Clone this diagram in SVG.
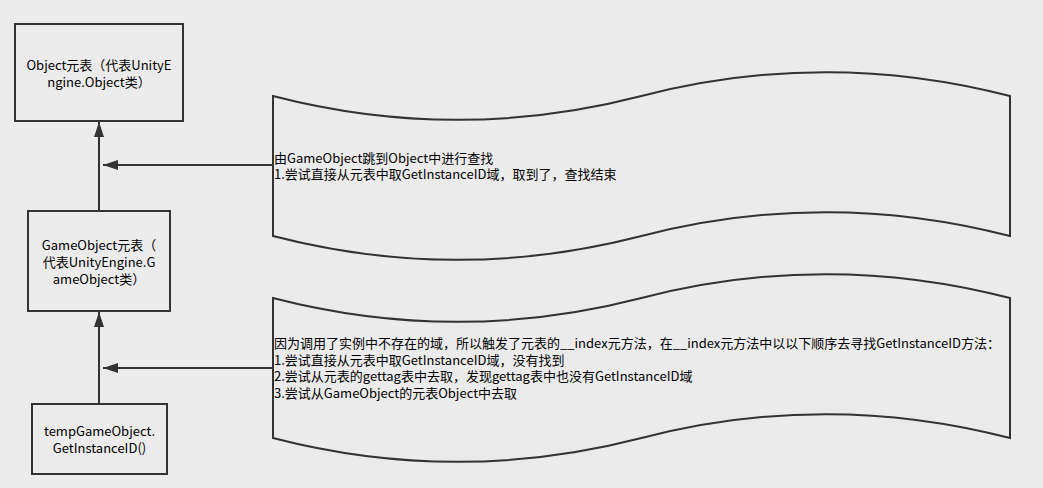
<svg xmlns="http://www.w3.org/2000/svg" width="1043" height="488" viewBox="0 0 1043 488">
<style>
.box{fill:#ebebeb;stroke:#333;stroke-width:2}
.tape{fill:#ebebeb;stroke:#333;stroke-width:2}
.edge{fill:none;stroke:#333;stroke-width:2;marker-end:url(#ah)}
text{font-family:"Noto Sans CJK SC","Microsoft YaHei",sans-serif;font-size:13px;fill:#000}
.c{text-anchor:middle}
</style>
<defs>
<marker id="ah" markerUnits="userSpaceOnUse" markerWidth="16" markerHeight="11" refX="15" refY="5" orient="auto">
<path d="M0,0 L15,5 L0,10 Z" fill="#333"/>
</marker>
</defs>
<rect width="1043" height="488" fill="#ebebeb"/>
<g id="connectors">
<path class="edge" d="M99,211 L99,122"/>
<path class="edge" d="M99,404 L99,312"/>
<path class="edge" d="M273,165 L103,165"/>
<path class="edge" d="M273,368 L103,368"/>
</g>
<g id="object">
<rect class="box" x="15" y="24" width="168" height="97"/>
<text class="c" x="99" y="70">Object元表（代表UnityE</text>
<text class="c" x="99" y="87">ngine.Object类）</text>
</g>
<g id="gameobject">
<rect class="box" x="28" y="211" width="142" height="100"/>
<text class="c" x="99" y="250">GameObject元表（</text>
<text class="c" x="99" y="267">代表UnityEngine.G</text>
<text class="c" x="99" y="284">ameObject类）</text>
</g>
<g id="temp">
<rect class="box" x="32" y="404" width="135" height="70"/>
<text class="c" x="99.5" y="436">tempGameObject.</text>
<text class="c" x="99.5" y="453">GetInstanceID()</text>
</g>
<g id="note1">
<path class="tape" d="M273,96 Q457,143.7 641.5,96 Q825.75,48.3 1010,96 L1010,236 Q825.75,188.3 641.5,236 Q457,283.7 273,236 Z"/>
<text x="274" y="163">由GameObject跳到Object中进行查找</text>
<text x="274" y="179">1.尝试直接从元表中取GetInstanceID域，取到了，查找结束</text>
</g>
<g id="note2">
<path class="tape" d="M273,298 Q457,345.7 641.5,298 Q825.75,250.3 1010,298 L1010,438 Q825.75,390.3 641.5,438 Q457,485.7 273,438 Z"/>
<text x="274" y="348">因为调用了实例中不存在的域，所以触发了元表的__index元方法，在__index元方法中以以下顺序去寻找GetInstanceID方法：</text>
<text x="274" y="364.5">1.尝试直接从元表中取GetInstanceID域，没有找到</text>
<text x="274" y="381">2.尝试从元表的gettag表中去取，发现gettag表中也没有GetInstanceID域</text>
<text x="274" y="397.5">3.尝试从GameObject的元表Object中去取</text>
</g>
</svg>
